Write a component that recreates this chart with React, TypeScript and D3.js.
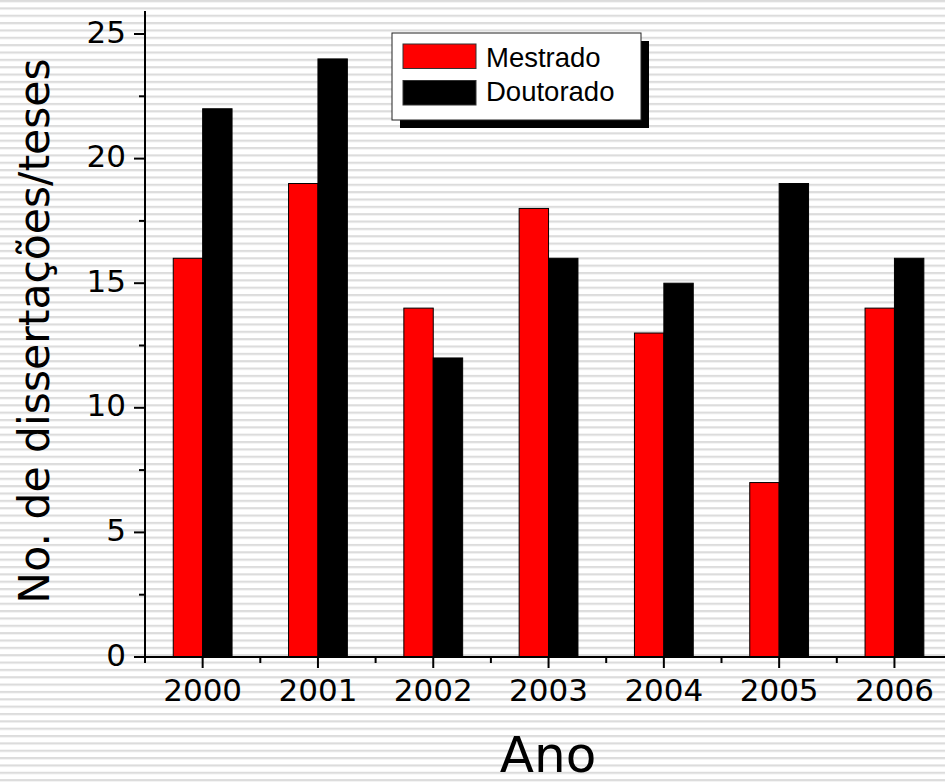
import React from "react";
import * as d3 from "d3";

const years = ["2000", "2001", "2002", "2003", "2004", "2005", "2006"];
const mestrado = [16, 19, 14, 18, 13, 7, 14];
const doutorado = [22, 24, 12, 16, 15, 19, 16];
const yTicks = [0, 5, 10, 15, 20, 25];
const yMinorTicks = [2.5, 7.5, 12.5, 17.5, 22.5];
const seriesNames = ["Mestrado", "Doutorado"];
const seriesColors = ["#ff0000", "#000000"];

const W = 945;
const H = 784;

export default function App() {
  const x0 = 145;
  const step = 115.3;
  const x = d3
    .scaleBand<string>()
    .domain(years)
    .range([x0, x0 + step * years.length])
    .padding(0);
  const y = d3.scaleLinear().domain([0, 25]).range([657, 34]);
  const bw = x.bandwidth() * 0.255;
  const tickFont = "DejaVu Sans, Verdana, sans-serif";

  const stripePeriod = 7.35;

  return (
    <svg
      width={W}
      height={H}
      style={{ position: "absolute", left: 0, top: 0, background: "#fff" }}
    >
      <defs>
        <pattern
          id="stripes"
          patternUnits="userSpaceOnUse"
          width={10}
          height={stripePeriod}
        >
          <rect x={0} y={0} width={10} height={stripePeriod} fill="#ffffff" />
          <rect x={0} y={0} width={10} height={2.2} fill="#dcdcdc" />
        </pattern>
      </defs>
      <rect x={0} y={0} width={W} height={H} fill="url(#stripes)" />

      {/* bars */}
      {years.map((yr, i) => {
        const c = (x(yr) as number) + x.bandwidth() / 2;
        return (
          <g key={yr}>
            <rect
              x={c - bw}
              y={y(mestrado[i])}
              width={bw}
              height={y(0) - y(mestrado[i])}
              fill={seriesColors[0]}
              stroke="#000"
              strokeWidth={1}
            />
            <rect
              x={c}
              y={y(doutorado[i])}
              width={bw}
              height={y(0) - y(doutorado[i])}
              fill={seriesColors[1]}
              stroke="#000"
              strokeWidth={1}
            />
          </g>
        );
      })}

      {/* y axis */}
      <line x1={x0} x2={x0} y1={11} y2={y(0) + 1} stroke="#000" strokeWidth={2} />
      {yTicks.map((t) => (
        <g key={"yt" + t}>
          <line x1={x0 - 11} x2={x0} y1={y(t)} y2={y(t)} stroke="#000" strokeWidth={2} />
          <text
            x={126}
            y={y(t)}
            dy="0.28em"
            textAnchor="end"
            fontFamily={tickFont}
            fontSize={31}
            fill="#000"
          >
            {t}
          </text>
        </g>
      ))}
      {yMinorTicks.map((t) => (
        <line key={"ym" + t} x1={x0 - 6} x2={x0} y1={y(t)} y2={y(t)} stroke="#000" strokeWidth={2} />
      ))}

      {/* x axis */}
      <line x1={x0 - 1} x2={W} y1={y(0)} y2={y(0)} stroke="#000" strokeWidth={2} />
      {years.map((yr) => {
        const c = (x(yr) as number) + x.bandwidth() / 2;
        return (
          <g key={"xt" + yr}>
            <line x1={c} x2={c} y1={y(0)} y2={y(0) + 11} stroke="#000" strokeWidth={2} />
            <text
              x={c}
              y={701}
              textAnchor="middle"
              fontFamily={tickFont}
              fontSize={31}
              fill="#000"
            >
              {yr}
            </text>
          </g>
        );
      })}
      {years.map((yr) => (
        <line
          key={"xm" + yr}
          x1={x(yr) as number}
          x2={x(yr) as number}
          y1={y(0)}
          y2={y(0) + 6}
          stroke="#000"
          strokeWidth={2}
        />
      ))}

      {/* axis titles */}
      <text
        transform="translate(49,331) rotate(-90)"
        textAnchor="middle"
        fontFamily={tickFont}
        fontSize={42.5}
        fill="#000"
      >
        No. de dissertações/teses
      </text>
      <text
        x={548}
        y={772}
        textAnchor="middle"
        fontFamily={tickFont}
        fontSize={50}
        fill="#000"
      >
        Ano
      </text>

      {/* legend */}
      <rect x={400} y={41} width={249} height={87} fill="#000" />
      <rect x={392} y={33} width={249} height={87} fill="#fff" stroke="#222" strokeWidth={1} />
      {seriesNames.map((name, i) => (
        <g key={name}>
          <rect
            x={403}
            y={44 + i * 36.5}
            width={73}
            height={24.5}
            fill={seriesColors[i]}
            stroke="#333"
            strokeWidth={1}
          />
          <text
            x={486}
            y={66.5 + i * 34.5}
            fontFamily="Liberation Sans, Arial, sans-serif"
            fontSize={27.5}
            fill="#000"
          >
            {name}
          </text>
        </g>
      ))}
    </svg>
  );
}
